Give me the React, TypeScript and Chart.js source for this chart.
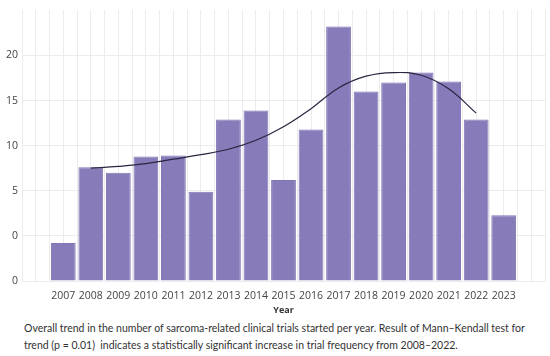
import React, { useEffect, useRef } from "react";
import { Chart, registerables } from "chart.js";

Chart.register(...registerables);

const CATEGORIES = ["", "2007", "2008", "2009", "2010", "2011", "2012", "2013", "2014", "2015", "2016", "2017", "2018", "2019", "2020", "2021", "2022", "2023", ""];
const TRIALS = [null, 4.2, 12.6, 12.0, 13.8, 13.9, 9.9, 17.9, 18.9, 11.2, 16.8, 28.2, 21.0, 22.0, 23.1, 22.1, 17.9, 7.3, null];
const TREND = [null, null, 12.5, 12.7, 13.0, 13.5, 14.0, 14.6, 15.6, 17.1, 19.1, 21.4, 22.7, 23.1, 22.8, 21.3, 18.6, null, null];
const Y_TICK_VALUES = [0, 5, 10, 15, 20, 25, 30];
const Y_TICK_LABELS = ["0", "0", "5", "10", "15", "20", ""];
const CAPTION_LINE_1 = "Overall trend in the number of sarcoma-related clinical trials started per year. Result of Mann\u2013Kendall test for";
const CAPTION_LINE_2 = "trend (p = 0.01)  indicates a statistically significant increase in trial frequency from 2008\u20132022.";

const FONT = "'Open Sans', 'Noto Sans', sans-serif";
const CAPTION_FONT = "Lato, 'Open Sans', sans-serif";
const GRID = "#ececec";

export default function App() {
  const ref = useRef<HTMLCanvasElement | null>(null);
  useEffect(() => {
    if (!ref.current) return;
    const chart = new Chart(ref.current, {
      type: "bar",
      data: {
        labels: CATEGORIES,
        datasets: [
          {
            type: "line",
            data: TREND as any,
            borderColor: "#2b2540",
            borderWidth: 1.2,
            pointRadius: 0,
            tension: 0.4,
            fill: false,
            order: 0,
            xAxisID: "x",
          } as any,
          {
            type: "bar",
            data: TRIALS as any,
            backgroundColor: "#887bba",
            borderColor: "#8175b6",
            borderWidth: 1,
            barPercentage: 0.9,
            categoryPercentage: 1,
            order: 1,
            xAxisID: "x",
          } as any,
        ],
      },
      options: {
        animation: false,
        responsive: true,
        maintainAspectRatio: false,
        layout: { padding: { top: 9, right: 5, left: 0, bottom: 0 } },
        plugins: { legend: { display: false }, tooltip: { enabled: false } },
        scales: {
          x: {
            type: "category",
            offset: true,
            grid: { color: GRID, offset: true, drawTicks: false },
            border: { display: false },
            ticks: { font: { family: FONT, size: 10.5 }, color: "#444", padding: 9, autoSkip: false, maxRotation: 0 },
            title: { display: true, text: "Year", font: { family: FONT, size: 9, weight: "bold" }, color: "#333", padding: { top: 0, bottom: 2 } },
            afterFit: (s: any) => { s.height = 37; },
          },
          x2: {
            type: "category",
            position: "top",
            labels: CATEGORIES,
            offset: true,
            grid: { color: GRID, offset: false, drawTicks: false },
            border: { display: false },
            ticks: { display: false },
            afterFit: (s: any) => { s.height = 0; },
          },
          y: {
            min: 0,
            max: 30,
            grid: { color: (c: any) => (c.tick && c.tick.value === 30 ? "rgba(0,0,0,0)" : GRID), drawTicks: false },
            border: { display: false },
            afterBuildTicks: (s: any) => { s.ticks = Y_TICK_VALUES.map((v) => ({ value: v })); },
            ticks: {
              font: { family: FONT, size: 10.5 },
              color: "#444",
              padding: 4,
              callback: (v: any) => { const i = Y_TICK_VALUES.indexOf(Number(v)); return i >= 0 ? Y_TICK_LABELS[i] : ""; },
            },
            afterFit: (s: any) => { s.width = 22; },
          },
        },
      },
    });
    return () => chart.destroy();
  }, []);
  return (
    <div style={{ position: "absolute", left: 0, top: 0, width: 550, height: 356, background: "#fff" }}>
      <div style={{ position: "relative", width: 550, height: 318 }}>
        <canvas ref={ref} />
      </div>
      <div style={{ position: "absolute", left: 24, top: 320, width: 526, fontFamily: CAPTION_FONT, fontSize: 10.5, color: "#333", lineHeight: "17px", whiteSpace: "pre" }}>
        <div>{CAPTION_LINE_1}</div>
        <div>{CAPTION_LINE_2}</div>
      </div>
    </div>
  );
}
